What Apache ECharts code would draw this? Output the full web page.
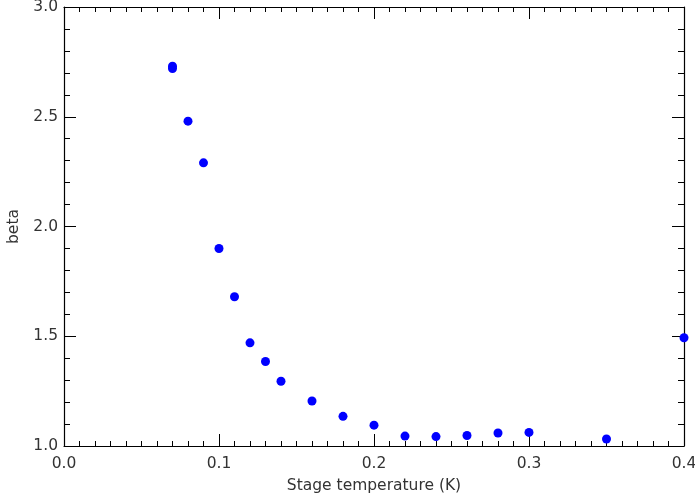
<!DOCTYPE html>
<html><head><meta charset="utf-8">
<script src="https://cdn.jsdelivr.net/npm/echarts@6/dist/echarts.min.js"></script>
<style>html,body{margin:0;padding:0;background:#fff}#c{width:695px;height:499px}</style>
</head><body><div id="c"></div>
<script>
const temperature = [0.07, 0.07, 0.08, 0.09, 0.10, 0.11, 0.12, 0.13, 0.14, 0.16, 0.18, 0.20, 0.22, 0.24, 0.26, 0.28, 0.30, 0.35, 0.40];
const beta = [2.73, 2.72, 2.48, 2.29, 1.90, 1.68, 1.47, 1.385, 1.295, 1.205, 1.135, 1.095, 1.045, 1.043, 1.048, 1.059, 1.062, 1.032, 1.493];
const xTicks = [0.0, 0.1, 0.2, 0.3, 0.4];
const yTicks = [1.0, 1.5, 2.0, 2.5, 3.0];

const chart = echarts.init(document.getElementById('c'));
const font = 'DejaVu Sans';
const txt = '#333';
const fs = 15.5;
function lineCfg(show) {
  return {show: show, onZero: false, lineStyle: {color: '#000', width: 1.2}};
}
function xAxisCfg(pos, labels, interval, tickLen, showLine) {
  return {
    type: 'value', position: pos, offset: 0, min: xTicks[0], max: xTicks[xTicks.length-1], interval: interval,
    axisLine: lineCfg(showLine),
    axisTick: {show: true, inside: true, length: tickLen, lineStyle: {color: '#000'}},
    minorTick: {show: false},
    splitLine: {show: false}, minorSplitLine: {show: false},
    axisLabel: {show: labels, color: txt, fontFamily: font, fontSize: fs, margin: 10,
      formatter: v => v.toFixed(1)},
    name: labels ? 'Stage temperature (K)' : '', nameLocation: 'middle', nameGap: 32,
    nameTextStyle: {color: txt, fontFamily: font, fontSize: fs}
  };
}
function yAxisCfg(pos, labels, interval, tickLen, showLine) {
  return {
    type: 'value', position: pos, offset: 0, min: yTicks[0], max: yTicks[yTicks.length-1], interval: interval,
    axisLine: lineCfg(showLine),
    axisTick: {show: true, inside: true, length: tickLen, lineStyle: {color: '#000'}},
    minorTick: {show: false},
    splitLine: {show: false}, minorSplitLine: {show: false},
    axisLabel: {show: labels, color: txt, fontFamily: font, fontSize: fs, margin: 6,
      formatter: v => v.toFixed(1)},
    name: labels ? 'beta' : '', nameLocation: 'middle', nameGap: 41,
    nameTextStyle: {color: txt, fontFamily: font, fontSize: fs}
  };
}
chart.setOption({
  animation: false,
  backgroundColor: '#fff',
  grid: {left: 64, right: 11, top: 7, bottom: 53, containLabel: false, outerBoundsMode: 'none'},
  xAxis: [
    xAxisCfg('bottom', true, 0.1, 12, true),
    xAxisCfg('top', false, 0.1, 12, true),
    xAxisCfg('bottom', false, 0.01, 5, false),
    xAxisCfg('top', false, 0.01, 5, false)
  ],
  yAxis: [
    yAxisCfg('left', true, 0.5, 12, true),
    yAxisCfg('right', false, 0.5, 12, true),
    yAxisCfg('left', false, 0.1, 6, false),
    yAxisCfg('right', false, 0.1, 6, false)
  ],
  series: [{
    type: 'scatter', symbol: 'circle', symbolSize: 9, xAxisIndex: 0, yAxisIndex: 0,
    itemStyle: {color: '#0000ff', opacity: 1},
    data: temperature.map((t, i) => [t, beta[i]]),
    clip: false
  }]
});
</script></body></html>
